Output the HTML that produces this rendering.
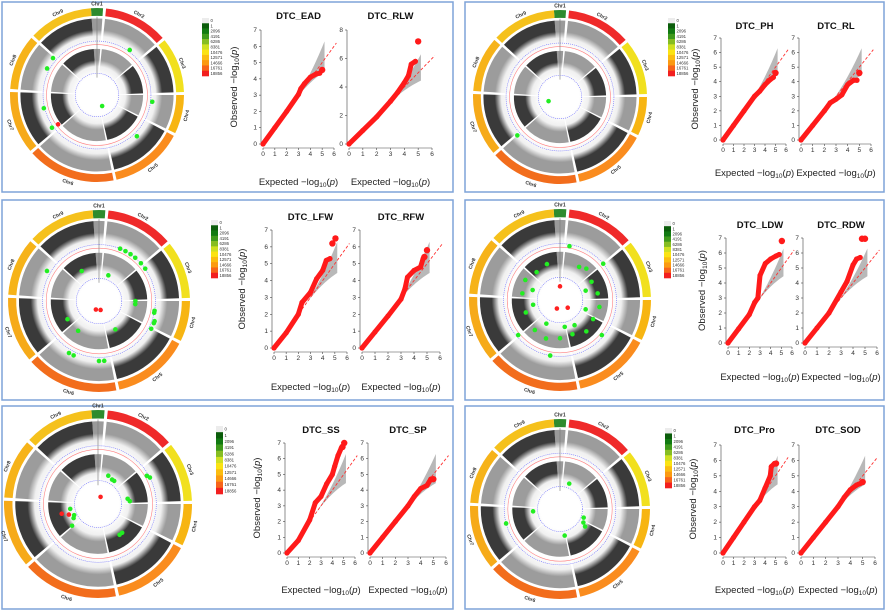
<!DOCTYPE html>
<html><head><meta charset="utf-8"><style>
html,body{margin:0;padding:0;background:#fff;width:886px;height:611px;overflow:hidden}
svg{display:block;font-family:"Liberation Sans",Arial,sans-serif}
</style></head><body>
<svg id="fig" width="886" height="611" viewBox="0 0 886 611" xmlns="http://www.w3.org/2000/svg">
<defs></defs>
</svg>
<script>
// ---------- QQ data (expected -log10 p, observed -log10 p) ----------
const eadExp=[0,1,2,3,3.2,3.5,4,4.5,4.8];      const eadObs=[0,1,2,3.05,3.4,3.7,4.1,4.3,4.35];
const rlwExp=[0,1,2,3,3.5,4,4.3,4.5,4.8];      const rlwObs=[0,0.95,1.9,3.0,3.6,4.3,4.8,5.6,5.8];
const phExp=[0,1,2,3,3.5,4,4.5,4.8];           const phObs=[0,1,2,3,3.35,3.8,4.15,4.3];
const rlExp=[0,1,2,2.5,3,3.5,4,4.5,4.8];       const rlObs=[0,1,2,2.55,2.8,3.1,3.8,4.1,4.1];
const lfwExp=[0,1,2,2.3,3,3.5,4,4.3,4.6];      const lfwObs=[0,0.9,2.0,2.7,3.3,4.1,4.6,5.2,5.3];
const rfwExp=[0,1,2,3,3.3,3.5,4,4.5,4.7];      const rfwObs=[0,0.95,1.9,2.9,3.5,4.2,4.6,4.8,5.3];
const ldwExp=[0,1,2,2.5,2.8,3,3.5,4,4.5,4.8];  const ldwObs=[0,0.95,1.9,2.7,3.0,4.5,5.3,5.6,5.8,5.9];
const rdwExp=[0,1,2,3,3.5,4,4.3,4.6];          const rdwObs=[0,1,2,3.4,4.1,5.2,5.6,5.7];
const ssExp=[0,1,2,2.5,3,3.5,4,4.2,4.5,4.8];   const ssObs=[0,0.8,2.1,3.2,3.6,4.4,5.0,5.5,6.2,6.7];
const spExp=[0,1,2,3,3.5,4,4.5,4.8];           const spObs=[0,1,2,3,3.6,4.1,4.3,4.7];
const proExp=[0,1,2,3,3.5,4,4.5,4.6,4.9];      const proObs=[0,1,2,3,3.4,4.2,5.0,5.6,5.8];
const sodExp=[0,1,2,3,3.5,4,4.5,4.8];          const sodObs=[0,1,2,3,3.6,4.1,4.4,4.5];
// top (largest) hits drawn as big dots
const eadTopExp=[5.0]; const eadTopObs=[4.55];
const rlwTopExp=[5.0]; const rlwTopObs=[7.2];
const phTopExp=[5.0];  const phTopObs=[4.6];
const rlTopExp=[5.0];  const rlTopObs=[4.6];
const lfwTopExp=[4.8,5.05]; const lfwTopObs=[6.2,6.5];
const rfwTopExp=[4.8,5.0];  const rfwTopObs=[5.4,5.8];
const ldwTopExp=[5.05]; const ldwTopObs=[6.8];
const rdwTopExp=[4.75,5.0]; const rdwTopObs=[6.95,6.95];
const ssTopExp=[4.9,5.05]; const ssTopObs=[6.75,7.0];
const spTopExp=[5.0]; const spTopObs=[4.7];
const proTopExp=[5.05]; const proTopObs=[5.8];
const sodTopExp=[5.0]; const sodTopObs=[4.6];
// legend
const legendLabels=["0","1","2096","4191","6286","8381","10476","12571","14666","16761","18856"];
const legendColors=["#ececec","#0a5c0a","#127a12","#3f9a1c","#86bd22","#cfe021","#fbe313","#fbbd10","#fb9a12","#f7641a","#f21f1f"];
// chromosomes
const chrNames=["Chr1","Chr2","Chr3","Chr4","Chr5","Chr6","Chr7","Chr8","Chr9"];
const chrStart=[-4,6,51,90,118,169,230,274,313];
const chrEnd=[4,49,88,116,167,228,272,311,356];
const chrColors=["#2e8b2e","#ef2a2a","#f1e01e","#f7b512","#fa8c1e","#f26d1c","#f6aa19","#f6b319","#f5c11c"];
const chrShade=["#9a9a9a","#9c9c9c","#3a3a3a","#9c9c9c","#3a3a3a","#9c9c9c","#3a3a3a","#9c9c9c","#3a3a3a"];
// significant SNPs on circles: angle (deg), radius fraction, colour flag (1=red)
const p1Ang=[36,310,298,97,256,234,233,136,155]; const p1Rad=[0.64,0.66,0.65,0.64,0.63,0.64,0.56,0.66,0.14]; const p1Red=[0,0,0,0,0,0,1,0,0];
const p2Ang=[250,228]; const p2Rad=[0.14,0.66]; const p2Red=[0,0];
const p3Ang=[22,28,34,40,48,55,300,100,102,110,112,118,205,210,175,180,330,20,90,95,150,215,240,200,170];
const p3Rad=[0.62,0.62,0.62,0.62,0.62,0.62,0.66,0.62,0.62,0.65,0.65,0.65,0.66,0.66,0.66,0.66,0.38,0.3,0.4,0.4,0.36,0.4,0.4,0.1,0.1];
const p3Red=[0,0,0,0,0,0,0,0,0,0,0,0,0,0,0,0,0,0,0,0,0,0,0,1,1];
const p4Ang=[30,40,60,80,100,120,140,160,180,200,220,250,280,300,320,10,50,70,110,130,150,170,190,210,230,260,290,340,0,135,200];
const p4Rad=[0.42,0.45,0.4,0.42,0.44,0.42,0.45,0.4,0.42,0.45,0.43,0.4,0.42,0.44,0.4,0.6,0.62,0.3,0.3,0.6,0.32,0.3,0.62,0.3,0.6,0.3,0.32,0.42,0.15,0.12,0.1];
const p4Red=[0,0,0,0,0,0,0,0,0,0,0,0,0,0,0,0,0,0,0,0,0,0,0,0,0,0,0,0,1,1,1];
const p5Ang=[60,63,20,30,35,80,85,140,145,255,250,240,230,260,245,20];
const p5Rad=[0.6,0.62,0.32,0.3,0.3,0.32,0.34,0.4,0.4,0.4,0.33,0.3,0.36,0.3,0.28,0.08];
const p5Red=[0,0,0,0,0,0,0,0,0,1,1,0,0,0,0,1];
const p6Ang=[20,265,120,110,125,170,255]; const p6Rad=[0.3,0.3,0.3,0.28,0.34,0.3,0.62]; const p6Red=[0,0,0,0,0,0,0];

const NS="http://www.w3.org/2000/svg";
const svg=document.getElementById('fig');
function mk(tag,attrs,parent){const e=document.createElementNS(NS,tag);for(const k in attrs)e.setAttribute(k,attrs[k]);(parent||svg).appendChild(e);return e;}
function pol(cx,cy,r,a){const t=(a-90)*Math.PI/180;return [cx+r*Math.cos(t),cy+r*Math.sin(t)];}
function sector(cx,cy,r1,r2,a1,a2){
  const p1=pol(cx,cy,r2,a1),p2=pol(cx,cy,r2,a2),p3=pol(cx,cy,r1,a2),p4=pol(cx,cy,r1,a1);
  const lg=(a2-a1)>180?1:0;
  return `M${p1[0]},${p1[1]}A${r2},${r2} 0 ${lg} 1 ${p2[0]},${p2[1]}L${p3[0]},${p3[1]}A${r1},${r1} 0 ${lg} 0 ${p4[0]},${p4[1]}Z`;
}
let gid=0;
function circos(cx,cy,R,ang,rad,red){
  const g=mk('g',{});
  
  
  const defs=svg.querySelector('defs');
  for(let i=0;i<chrNames.length;i++){
    const a1=chrStart[i],a2=chrEnd[i];
    const ring=mk('path',{d:sector(cx,cy,0.91*R,R,a1,a2),fill:chrColors[i]},g);
    
    
    for(const tr of [[0.56,0.88,0.75],[0.22,0.53,0.4]]){
      const id='gr'+(gid++);
      const gr=mk('radialGradient',{id:id,gradientUnits:'userSpaceOnUse',cx:cx,cy:cy,r:tr[1]*R},defs);
      const f0=tr[0]/tr[1],f1=tr[2]/tr[1];
      mk('stop',{offset:f0,'stop-color':'#ffffff'},gr);
      mk('stop',{offset:f0+(f1-f0)*0.6,'stop-color':'#f0f0f0'},gr);
      mk('stop',{offset:f1,'stop-color':chrShade[i]},gr);
      mk('stop',{offset:1,'stop-color':chrShade[i]},gr);
      const tp=mk('path',{d:sector(cx,cy,tr[0]*R,tr[1]*R,a1,a2),fill:`url(#${id})`},g);
      
      
    }
    const mid=(a1+a2)/2,lp=pol(cx,cy,1.05*R,mid);
    let rot=mid; if(mid>90&&mid<270) rot=mid+180;
    const t=mk('text',{x:lp[0],y:lp[1]+2,'font-size':5,'text-anchor':'middle','font-weight':'bold',fill:'#333',transform:`rotate(${rot} ${lp[0]} ${lp[1]})`},g);
    t.textContent=chrNames[i];
    
    
  }
  for(const rr of [0.62,0.25]){
    const c=mk('circle',{cx:cx,cy:cy,r:rr*R,fill:'none',stroke:'#6a6aff','stroke-width':0.6,'stroke-dasharray':'1 1'},g);
    
    
  }
  const rc=mk('circle',{cx:cx,cy:cy,r:0.58*R,fill:'none',stroke:'#ff8080','stroke-width':0.6},g);
  
  
  mk('line',{x1:cx,y1:cy-0.2*R,x2:cx,y2:cy-0.9*R,stroke:'#777','stroke-width':0.6},g);
  for(let i=0;i<ang.length;i++){
    const p=pol(cx,cy,rad[i]*R,ang[i]);
    const d=mk('circle',{cx:p[0],cy:p[1],r:2.3,fill:red[i]?'#ff2020':'#22ee22'},g);
    
    
  }
}
function legend(x,y,h){
  const g=mk('g',{});
  
  
  const bh=h/legendColors.length;
  for(let i=0;i<legendColors.length;i++){
    const r=mk('rect',{x:x,y:y+i*bh,width:7,height:bh+0.3,fill:legendColors[i]},g);
    
    
    const t=mk('text',{x:x+8.5,y:y+i*bh+bh/2+1.5,'font-size':4.3,fill:'#333'},g);
    t.textContent=legendLabels[i];
    
    
  }
}
function qq(name,x0,x6,y0,yTop,ymax,titleY,labelY,ex,ob,tex,tob,showY,ylx){
  const g=mk('g',{});
  
  
  const sx=v=>x0+(x6-x0)*v/6, sy=v=>y0-(y0-yTop)*v/ymax;
  const ya=mk('line',{x1:x0-2,y1:y0,x2:x0-2,y2:yTop,stroke:'#444','stroke-width':0.6},g);
  
  const step=ymax>7?2:1;
  for(let v=0;v<=ymax;v+=step){
    mk('line',{x1:x0-4,y1:sy(v),x2:x0-2,y2:sy(v),stroke:'#444','stroke-width':0.6},g);
    const t=mk('text',{x:x0-6,y:sy(v)+2,'font-size':6.5,'text-anchor':'end',fill:'#333'},g);
    t.textContent=v;
  }
  const xa=mk('line',{x1:x0,y1:y0+4,x2:x6,y2:y0+4,stroke:'#444','stroke-width':0.6},g);
  
  for(let v=0;v<=6;v++){
    mk('line',{x1:sx(v),y1:y0+4,x2:sx(v),y2:y0+6,stroke:'#444','stroke-width':0.6},g);
    const t=mk('text',{x:sx(v),y:y0+12,'font-size':6.5,'text-anchor':'middle',fill:'#333'},g);
    t.textContent=v;
  }
  let up=[],lo=[];
  for(let v=2.4;v<=5.21;v+=0.1){const f=Math.pow((v-2.4)/2.8,2);up.push(sx(v)+','+sy(Math.min(ymax,v+1.1*f)));lo.unshift(sx(v)+','+sy(v-0.75*f));}
  const band=mk('polygon',{points:up.concat(lo).join(' '),fill:'#b8b8b8'},g);
  
  const dl=Math.min(6.2,ymax);
  const diag=mk('line',{x1:sx(-0.1),y1:sy(-0.1),x2:sx(dl),y2:sy(dl),stroke:'#ff3030','stroke-width':0.9,'stroke-dasharray':'3 2'},g);
  
  const pts=ex.map((v,i)=>sx(v)+','+sy(ob[i])).join(' ');
  const ln=mk('polyline',{points:pts,fill:'none',stroke:'#ff1a1a','stroke-width':5,'stroke-linejoin':'round','stroke-linecap':'round'},g);
  
  for(let i=0;i<ex.length;i++){
    const c=mk('circle',{cx:sx(ex[i]),cy:sy(ob[i]),r:2.6,fill:'#ff1a1a'},g);
    
  }
  for(let i=0;i<tex.length;i++){
    const c=mk('circle',{cx:sx(tex[i]),cy:sy(tob[i]),r:3.2,fill:'#ff1a1a'},g);
    
  }
  const tt=mk('text',{x:(x0+x6)/2,y:titleY,'font-size':9.5,'font-weight':'bold','text-anchor':'middle',fill:'#111'},g);
  tt.textContent=name;
  const xl=mk('text',{x:(x0+x6)/2,y:labelY,'font-size':9.5,'text-anchor':'middle',fill:'#222'},g);
  xl.innerHTML='Expected  \u2212log<tspan font-size="6.5" dy="2">10</tspan><tspan dy="-2">(</tspan><tspan font-style="italic">p</tspan>)';
  
  if(showY){
    const cy=(y0+yTop)/2;
    const yl=mk('text',{x:ylx,y:cy,'font-size':9.5,'text-anchor':'middle',fill:'#222',transform:`rotate(-90 ${ylx} ${cy})`},g);
    yl.innerHTML='Observed  \u2212log<tspan font-size="6.5" dy="2">10</tspan><tspan dy="-2">(</tspan><tspan font-style="italic">p</tspan>)';
    
  }
}
function panel(x,y,w,h,name){
  const r=mk('rect',{x:x,y:y,width:w,height:h,fill:'#fff',stroke:'#7ea3d8','stroke-width':1.5});
  
  
}
panel(2,2,451,190,'panel-ead-rlw');
panel(465,2,419,190,'panel-ph-rl');
panel(2,200,451,200,'panel-lfw-rfw');
panel(465,200,419,200,'panel-ldw-rdw');
panel(2,406,451,203,'panel-ss-sp');
panel(465,406,419,203,'panel-pro-sod');

circos(97,95,87,p1Ang,p1Rad,p1Red);
circos(560,97,87,p2Ang,p2Rad,p2Red);
circos(99,301,91,p3Ang,p3Rad,p3Red);
circos(560,300,91,p4Ang,p4Rad,p4Red);
circos(98,504,94,p5Ang,p5Rad,p5Red);
circos(560,509,90,p6Ang,p6Rad,p6Red);

legend(202,18,58); legend(668,18,58); legend(211,220,58);
legend(664,221,57); legend(216,426,68); legend(665,428,60);

qq('DTC_EAD',263,334,144,30,7,19,185,eadExp,eadObs,eadTopExp,eadTopObs,true,237);
qq('DTC_RLW',349,432,144,30,8,19,185,rlwExp,rlwObs,rlwTopExp,rlwTopObs,false,0);
qq('DTC_PH',723,786,140,38,7,29,176,phExp,phObs,phTopExp,phTopObs,true,698);
qq('DTC_RL',801,871,140,38,7,29,176,rlExp,rlObs,rlTopExp,rlTopObs,false,0);
qq('DTC_LFW',274,347,348,230,7,220,390,lfwExp,lfwObs,lfwTopExp,lfwTopObs,true,245);
qq('DTC_RFW',362,440,348,230,7,220,390,rfwExp,rfwObs,rfwTopExp,rfwTopObs,false,0);
qq('DTC_LDW',728,792,343,238,7,228,380,ldwExp,ldwObs,ldwTopExp,ldwTopObs,true,705);
qq('DTC_RDW',805,877,343,238,7,228,380,rdwExp,rdwObs,rdwTopExp,rdwTopObs,false,0);
qq('DTC_SS',287,355,553,443,7,433,593,ssExp,ssObs,ssTopExp,ssTopObs,true,260);
qq('DTC_SP',370,446,553,443,7,433,593,spExp,spObs,spTopExp,spTopObs,false,0);
qq('DTC_Pro',723,786,553,445,7,433,593,proExp,proObs,proTopExp,proTopObs,true,696);
qq('DTC_SOD',801,875,553,445,7,433,593,sodExp,sodObs,sodTopExp,sodTopObs,false,0);
</script>
</body></html>
